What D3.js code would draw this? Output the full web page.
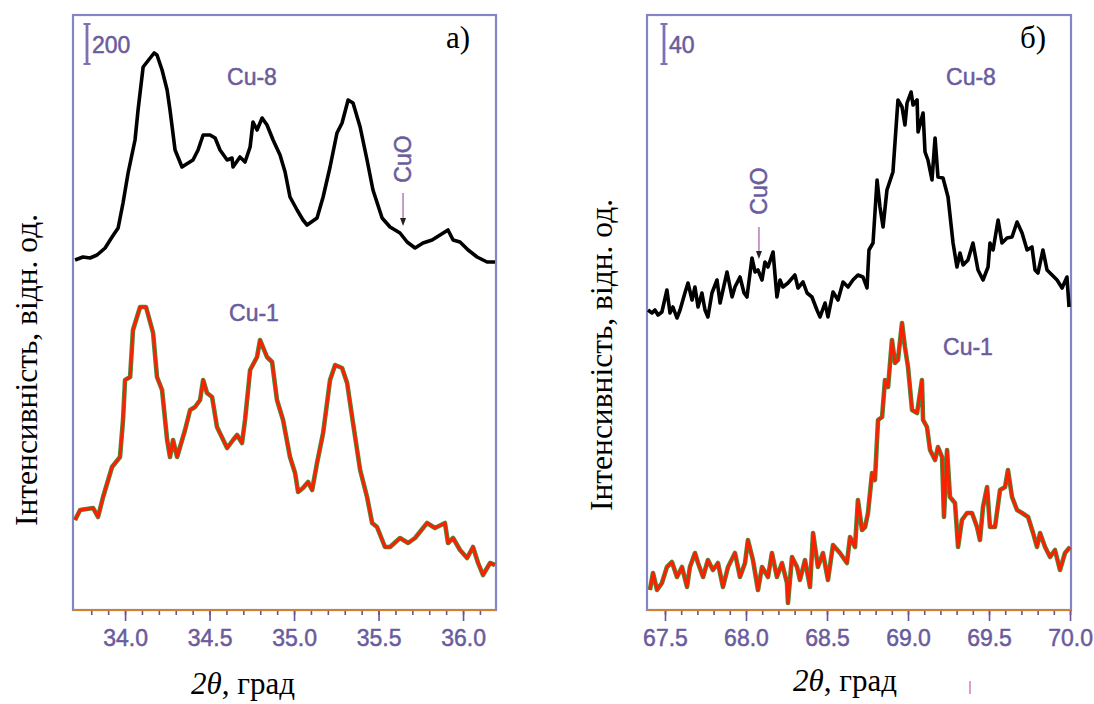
<!DOCTYPE html>
<html>
<head>
<meta charset="utf-8">
<script src="https://cdn.jsdelivr.net/npm/d3@7"></script>
<style>
body { margin: 0; background: #fff; }
svg { display: block; }
.serif { font-family: "Liberation Serif", "Times New Roman", serif; fill: #000; }
.sans { font-family: "Liberation Sans", Arial, sans-serif; fill: #6a5c9c; stroke: #6a5c9c; stroke-width: 0.5px; }
</style>
</head>
<body>
<svg id="chart" width="1094" height="704"></svg>
<script>
// panel a) 2theta (deg) and intensity (counts, stacked as plotted)
var cu8A_2t = [33.704,33.751,33.793,33.834,33.882,33.923,33.959,33.988,34.018,34.059,
  34.077,34.107,34.130,34.172,34.189,34.219,34.249,34.266,34.296,34.337,
  34.355,34.402,34.432,34.462,34.503,34.533,34.562,34.604,34.633,34.639,
  34.680,34.710,34.740,34.757,34.781,34.811,34.840,34.876,34.917,34.947,
  34.976,35.018,35.053,35.077,35.136,35.172,35.213,35.254,35.284,35.320,
  35.349,35.391,35.432,35.467,35.521,35.568,35.627,35.669,35.716,35.763,
  35.817,35.864,35.911,35.941,35.982,36.030,36.083,36.142,36.189];
var cu8A_I = [1750,1765,1760,1775,1810,1865,1910,2035,2185,2350,
  2500,2715,2740,2785,2775,2700,2600,2500,2300,2215,
  2225,2250,2300,2375,2375,2360,2300,2250,2260,2215,
  2265,2240,2315,2440,2400,2460,2425,2350,2275,2190,
  2065,2000,1950,1925,1960,2065,2215,2385,2435,2550,
  2535,2415,2250,2100,1960,1915,1885,1840,1810,1835,
  1850,1875,1900,1850,1840,1800,1765,1740,1740];
var cu1A_2t = [33.704,33.734,33.811,33.840,33.870,33.923,33.970,33.988,34.000,34.030,
  34.047,34.089,34.124,34.166,34.189,34.219,34.249,34.266,34.284,34.308,
  34.355,34.385,34.414,34.444,34.462,34.485,34.515,34.544,34.604,34.639,
  34.663,34.692,34.710,34.740,34.781,34.799,34.840,34.870,34.899,34.935,
  34.976,35.006,35.024,35.053,35.083,35.107,35.136,35.172,35.213,35.243,
  35.284,35.314,35.349,35.391,35.432,35.462,35.491,35.538,35.568,35.627,
  35.675,35.716,35.787,35.834,35.893,35.911,35.941,35.982,36.024,36.059,
  36.089,36.118,36.160,36.189];
var cu1A_I = [450,500,510,465,565,715,765,950,1150,1165,
  1400,1515,1515,1385,1165,1100,850,765,850,765,
  900,1000,1015,1050,1150,1085,1065,915,810,850,
  875,835,950,1200,1265,1350,1265,1240,1050,950,
  765,685,590,610,640,600,735,885,1150,1225,
  1210,1135,935,700,565,435,415,315,315,360,
  335,360,435,410,435,335,360,300,260,315,
  235,175,235,225];

// panel б)
var cu8B_2t = [67.395,67.420,67.438,67.457,67.481,67.512,67.531,67.549,67.574,67.593,
  67.623,67.642,67.667,67.685,67.704,67.728,67.747,67.765,67.790,67.821,
  67.840,67.858,67.883,67.914,67.932,67.963,67.988,68.006,68.037,68.056,
  68.074,68.099,68.117,68.136,68.167,68.191,68.210,68.228,68.259,68.302,
  68.321,68.352,68.377,68.407,68.438,68.457,68.488,68.506,68.537,68.568,
  68.599,68.630,68.660,68.691,68.722,68.747,68.759,68.784,68.809,68.827,
  68.846,68.870,68.907,68.938,68.963,68.981,68.994,69.019,69.031,69.056,
  69.062,69.093,69.105,69.123,69.148,69.167,69.185,69.216,69.247,69.278,
  69.302,69.321,69.340,69.370,69.401,69.432,69.463,69.494,69.506,69.525,
  69.556,69.580,69.611,69.642,69.673,69.704,69.735,69.765,69.784,69.802,
  69.833,69.858,69.889,69.920,69.951,69.981,69.994];
var cu8B_I = [300,297,300,295,298,320,297,303,292,300,
  317,327,310,323,303,317,300,293,317,330,
  307,320,338,313,323,333,317,313,352,338,
  340,330,348,343,358,313,330,323,327,335,
  322,328,317,313,300,293,307,293,318,310,
  328,323,330,335,333,322,360,367,430,403,
  383,420,438,510,503,485,507,518,505,510,
  478,497,458,450,430,472,433,432,413,367,
  343,357,345,350,367,340,330,343,367,360,
  390,367,372,373,388,377,360,363,340,337,
  360,340,335,330,322,333,303];
var cu1B_2t = [67.407,67.426,67.451,67.481,67.512,67.543,67.574,67.605,67.636,67.654,
  67.685,67.704,67.735,67.765,67.796,67.827,67.858,67.889,67.932,67.963,
  67.994,68.012,68.043,68.074,68.099,68.136,68.160,68.191,68.222,68.253,
  68.259,68.284,68.315,68.333,68.364,68.395,68.414,68.444,68.475,68.506,
  68.537,68.580,68.623,68.642,68.673,68.691,68.716,68.735,68.753,68.778,
  68.796,68.815,68.840,68.858,68.877,68.901,68.920,68.938,68.963,68.981,
  69.000,69.025,69.056,69.086,69.093,69.117,69.136,69.167,69.185,69.210,
  69.222,69.241,69.259,69.290,69.309,69.333,69.364,69.395,69.426,69.444,
  69.463,69.488,69.506,69.537,69.568,69.599,69.617,69.642,69.673,69.704,
  69.741,69.772,69.796,69.815,69.846,69.877,69.907,69.938,69.969,70.000];
var cu1B_I = [20,37,20,27,43,48,33,43,23,43,
  57,47,33,50,40,47,23,43,57,33,
  47,70,50,20,43,33,57,33,47,27,
  7,53,43,30,50,23,77,43,57,30,
  65,57,47,73,63,110,80,83,97,137,
  130,190,193,230,223,270,247,250,287,263,
  243,200,197,230,190,183,160,150,163,153,
  93,160,113,107,63,90,97,97,83,70,
  103,123,83,83,120,123,140,113,100,97,
  93,77,63,77,63,53,60,40,57,63];

var majorA = [34.0, 34.5, 35.0, 35.5, 36.0];
var majorB = [67.5, 68.0, 68.5, 69.0, 69.5, 70.0];
var minorA = d3.range(338, 362).map(function (d) { return d / 10; });
var minorB = d3.range(675, 701).map(function (d) { return d / 10; });
var scaleBarA = 200, scaleBarB = 40;
var cuoA = 35.645, cuoB = 68.08;

var svg = d3.select("#chart");
svg.append("rect").attr("width", 1094).attr("height", 704).attr("fill", "#fff");

var top_ = 15, bottom_ = 610;

function zip(a, b) {
    return a.map(function (d, i) { return [d, b[i]]; });
}

function panel(p) {
    var x = d3.scaleLinear().domain(p.xDomain).range([p.left, p.right]);
    var y = d3.scaleLinear().domain([0, p.yMax]).range([bottom_, top_]);
    var g = svg.append("g");

    // frame
    g.append("rect")
        .attr("x", p.left).attr("y", top_)
        .attr("width", p.right - p.left).attr("height", bottom_ - top_)
        .attr("fill", "none").attr("stroke", "#8585c5").attr("stroke-width", 2.2);

    // ticks
    var minorAxis = d3.axisBottom(x).tickValues(p.minors).tickSize(5).tickFormat("");
    var majorAxis = d3.axisBottom(x).tickValues(p.majors).tickSize(11).tickPadding(9)
        .tickFormat(d3.format(".1f"));
    var ga = g.append("g").attr("transform", "translate(0," + bottom_ + ")");
    ga.append("g").call(minorAxis);
    ga.append("g").call(majorAxis);
    ga.selectAll(".domain").remove();
    ga.selectAll("line").attr("stroke", "#6f4f96").attr("stroke-width", 1.6);
    ga.selectAll("text")
        .attr("class", "sans")
        .style("font-size", "23px")
        .attr("font-family", null);
    g.append("line")
        .attr("x1", p.left).attr("x2", p.right)
        .attr("y1", bottom_).attr("y2", bottom_)
        .attr("stroke", "#d0802e").attr("stroke-width", 2.2);

    var line = d3.line()
        .x(function (d) { return x(d[0]); })
        .y(function (d) { return y(d[1]); });

    // Cu-8 (black)
    g.append("path").datum(zip(p.cu8x, p.cu8y))
        .attr("d", line).attr("fill", "none")
        .attr("stroke", "#000").attr("stroke-width", 3.6)
        .attr("stroke-linejoin", "round");
    // Cu-1 (red with green edge)
    var c1 = zip(p.cu1x, p.cu1y);
    g.append("path").datum(c1)
        .attr("d", line).attr("fill", "none")
        .attr("stroke", "#4c8a3c").attr("stroke-width", 4.6)
        .attr("stroke-linejoin", "round");
    g.append("path").datum(c1)
        .attr("d", line).attr("fill", "none")
        .attr("stroke", "#ff1e00").attr("stroke-width", 2.8)
        .attr("stroke-linejoin", "round");

    // scale bar
    var barLen = y(0) - y(p.bar);
    var bx = p.barX, by = 24;
    g.append("line").attr("x1", bx).attr("x2", bx).attr("y1", by).attr("y2", by + barLen)
        .attr("stroke", "#7f6fb5").attr("stroke-width", 2.8);
    [by, by + barLen].forEach(function (yy) {
        g.append("line").attr("x1", bx - 3.5).attr("x2", bx + 3.5).attr("y1", yy).attr("y2", yy)
            .attr("stroke", "#7f6fb5").attr("stroke-width", 2);
    });
    g.append("text").attr("class", "sans").attr("x", bx + 5).attr("y", 53)
        .style("font-size", "23px").text(p.bar);

    // panel letter
    g.append("text").attr("class", "serif").attr("x", p.letterX).attr("y", 48)
        .style("font-size", "31px").text(p.letter);

    // sample labels
    g.append("text").attr("class", "sans").attr("text-anchor", "middle")
        .attr("x", p.lab8[0]).attr("y", p.lab8[1]).style("font-size", "23px").text("Cu-8");
    g.append("text").attr("class", "sans").attr("text-anchor", "middle")
        .attr("x", p.lab1[0]).attr("y", p.lab1[1]).style("font-size", "23px").text("Cu-1");

    // CuO marker
    var ax = x(p.cuo);
    g.append("text").attr("class", "sans")
        .attr("transform", "translate(" + (ax + 8) + "," + p.cuoY + ") rotate(-90)")
        .attr("text-anchor", "middle")
        .style("font-size", "23px").text("CuO");
    g.append("line").attr("x1", ax).attr("x2", ax)
        .attr("y1", p.arrowY[0]).attr("y2", p.arrowY[1] - 6)
        .attr("stroke", "#b070b0").attr("stroke-width", 1.4);
    g.append("path")
        .attr("d", "M" + (ax - 3) + "," + (p.arrowY[1] - 8) + "L" + (ax + 3) + "," + (p.arrowY[1] - 8) +
            "L" + ax + "," + p.arrowY[1] + "Z")
        .attr("fill", "#222");

    // axis titles
    var xt = g.append("text").attr("class", "serif").attr("text-anchor", "middle")
        .attr("x", p.xTitle[0]).attr("y", p.xTitle[1]).style("font-size", "31px");
    xt.append("tspan").style("font-style", "italic").text("2θ");
    xt.append("tspan").text(", град");
    g.append("text").attr("class", "serif").attr("text-anchor", "middle")
        .attr("transform", "translate(" + p.yTitle[0] + "," + p.yTitle[1] + ") rotate(-90)")
        .style("font-size", "31.5px").text("Інтенсивність, відн. од.");
}

panel({
    left: 73, right: 496, xDomain: [33.692, 36.195], yMax: 2975,
    majors: majorA, minors: minorA,
    cu8x: cu8A_2t, cu8y: cu8A_I, cu1x: cu1A_2t, cu1y: cu1A_I,
    bar: scaleBarA, barX: 87, letter: "а)", letterX: 446,
    lab8: [252, 85], lab1: [254, 321],
    cuo: cuoA, cuoY: 159, arrowY: [193, 226],
    xTitle: [243, 694], yTitle: [37, 370]
});
panel({
    left: 647, right: 1071, xDomain: [67.389, 70.006], yMax: 595,
    majors: majorB, minors: minorB,
    cu8x: cu8B_2t, cu8y: cu8B_I, cu1x: cu1B_2t, cu1y: cu1B_I,
    bar: scaleBarB, barX: 664, letter: "б)", letterX: 1020,
    lab8: [971, 85], lab1: [968, 355],
    cuo: cuoB, cuoY: 191, arrowY: [227, 259],
    xTitle: [845, 691], yTitle: [612, 355]
});

// small stray mark below panel б
svg.append("line").attr("x1", 970).attr("x2", 970).attr("y1", 681).attr("y2", 694)
    .attr("stroke", "#d080c0").attr("stroke-width", 1.5);
</script>
</body>
</html>
